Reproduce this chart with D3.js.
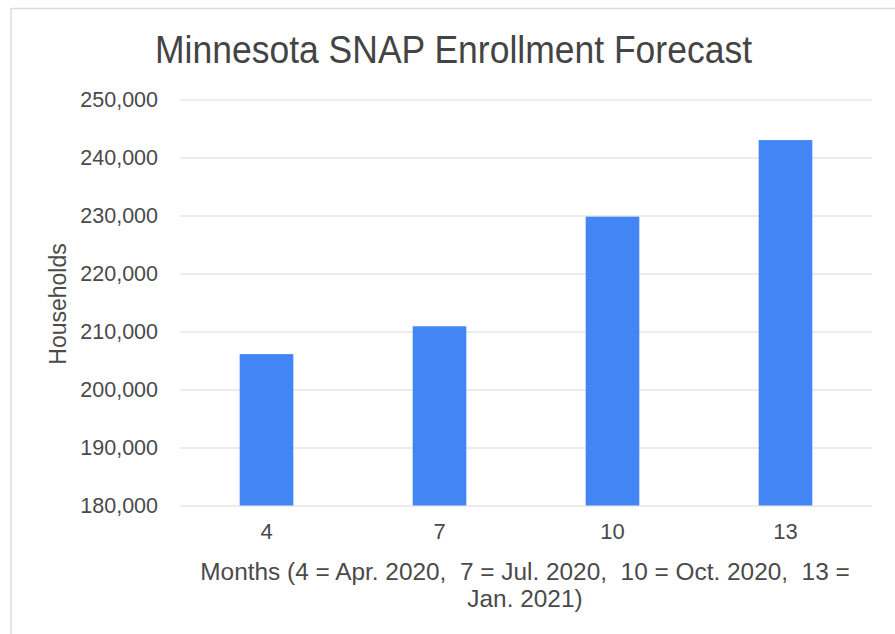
<!DOCTYPE html>
<html>
<head>
<meta charset="utf-8">
<script src="https://cdn.jsdelivr.net/npm/d3@7"></script>
<style>
  html, body { margin: 0; padding: 0; background: #fff; }
  svg { display: block; font-family: "Liberation Sans", Arial, sans-serif; }
</style>
</head>
<body>
<svg id="chart" width="895" height="634"></svg>
<script>
const categories = ["4", "7", "10", "13"];
const households = [206100, 210900, 229800, 243000];
const yTicks = [180000, 190000, 200000, 210000, 220000, 230000, 240000, 250000];
const titleText = "Minnesota SNAP Enrollment Forecast";
const yTitle = "Households";
const xTitleLines = ["Months (4 = Apr. 2020,  7 = Jul. 2020,  10 = Oct. 2020,  13 =", "Jan. 2021)"];

const svg = d3.select("#chart");
const W = 895, H = 634;
const plot = { left: 180, right: 872, top: 99.5, bottom: 505.5 };

// frame
svg.append("rect").attr("width", W).attr("height", H).attr("fill", "#fff");
svg.append("line").attr("x1", 11).attr("x2", W).attr("y1", 8.5).attr("y2", 8.5)
  .attr("stroke", "#dcdcdc").attr("stroke-width", 1.5);
svg.append("line").attr("x1", 11).attr("x2", 11).attr("y1", 8).attr("y2", H)
  .attr("stroke", "#dcdcdc").attr("stroke-width", 1.5);

const x = d3.scaleBand().domain(categories).range([plot.left, plot.right])
  .paddingInner(0.69).paddingOuter(0.345);
const y = d3.scaleLinear().domain([180000, 250000]).range([plot.bottom, plot.top]);

// gridlines + y labels via axis
const yAxis = d3.axisLeft(y).tickValues(yTicks)
  .tickFormat(d3.format(",")).tickSize(-(plot.right - plot.left)).tickPadding(22);
const gy = svg.append("g").attr("transform", `translate(${plot.left},0)`).call(yAxis);
gy.select(".domain").remove();
gy.selectAll(".tick line").attr("stroke", "#d9d9d9").attr("stroke-width", 1.2);
gy.selectAll(".tick text").attr("fill", "#4a4a4a").attr("font-size", 21.5)
  .attr("font-family", "Liberation Sans, Arial, sans-serif");

// bars
svg.append("g").selectAll("rect").data(households).join("rect")
  .attr("x", (d, i) => x(categories[i]))
  .attr("y", d => y(d))
  .attr("width", x.bandwidth())
  .attr("height", d => y(180000) - y(d))
  .attr("fill", "#4285f4");

// x axis labels
const xAxis = d3.axisBottom(x).tickSize(0).tickPadding(18);
const gx = svg.append("g").attr("transform", `translate(0,${plot.bottom})`).call(xAxis);
gx.select(".domain").remove();
gx.selectAll(".tick text").attr("fill", "#4a4a4a").attr("font-size", 22)
  .attr("font-family", "Liberation Sans, Arial, sans-serif");

// title
svg.append("text").attr("x", 453.5).attr("y", 63).attr("text-anchor", "middle")
  .attr("font-size", 38).attr("fill", "#444")
  .attr("textLength", 597).attr("lengthAdjust", "spacingAndGlyphs").text(titleText);

// y title
svg.append("text").attr("transform", "translate(66,304) rotate(-90)")
  .attr("text-anchor", "middle").attr("font-size", 23).attr("fill", "#4a4a4a").text(yTitle);

// x title
svg.append("text").attr("x", 525).attr("y", 580).attr("text-anchor", "middle")
  .attr("font-size", 24.4).attr("fill", "#4a4a4a").attr("xml:space", "preserve")
  .style("white-space", "pre")
  .selectAll("tspan").data(xTitleLines).join("tspan")
  .attr("x", 525).attr("dy", (d, i) => i === 0 ? 0 : 27).text(d => d);
</script>
</body>
</html>
